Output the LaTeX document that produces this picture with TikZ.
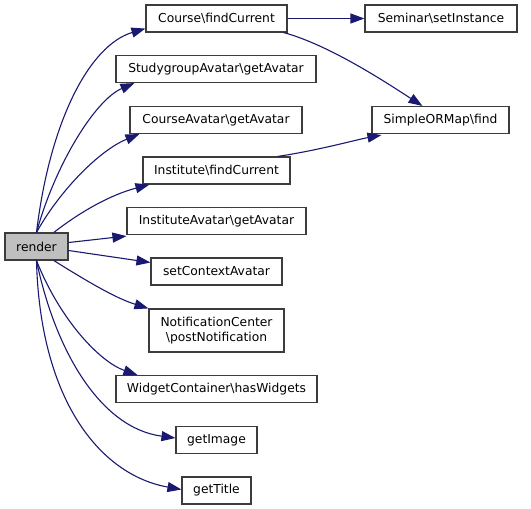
\documentclass[tikz,border=0pt]{standalone}
\usepackage{fontspec}
\setmainfont{DejaVu Sans}
\usetikzlibrary{arrows.meta}
\definecolor{edgeblue}{RGB}{25,25,112}
\definecolor{rendergray}{RGB}{191,191,191}
\definecolor{boxline}{RGB}{60,60,60}
\begin{document}
\begin{tikzpicture}[x=1pt,y=-1pt,
  fn/.style={draw=boxline,line width=1.1pt,fill=white,minimum height=27pt,inner xsep=10pt,inner ysep=2pt,font=\fontsize{12.3}{15}\selectfont,align=center},
  call/.style={edgeblue,line width=1.1pt,-{Triangle[length=14pt,width=10pt]}}]
\useasboundingbox (0,0) rectangle (531,509);
\node[fn,fill=rendergray,minimum width=63pt] (render) at (36.5,246.5) {render};
\node[fn,minimum width=141pt] (coursecur) at (216.5,18.5) {Course\textbackslash findCurrent};
\node[fn,minimum width=152pt] (seminar) at (441,18.5) {Seminar\textbackslash setInstance};
\node[fn,minimum width=200pt] (studyav) at (216,69) {StudygroupAvatar\textbackslash getAvatar};
\node[fn,minimum width=172pt] (courseav) at (216,120) {CourseAvatar\textbackslash getAvatar};
\node[fn,minimum width=137pt] (ormfind) at (440.5,120) {SimpleORMap\textbackslash find};
\node[fn,minimum width=147pt] (instcur) at (216.5,170.5) {Institute\textbackslash findCurrent};
\node[fn,minimum width=179pt] (instav) at (216.5,221) {InstituteAvatar\textbackslash getAvatar};
\node[fn,minimum width=131pt] (ctxav) at (216.5,271.5) {setContextAvatar};
\node[fn,minimum width=135pt,minimum height=43pt] (notify) at (216.5,330.5) {NotificationCenter\\\textbackslash postNotification};
\node[fn,minimum width=201pt] (widgets) at (216.5,389) {WidgetContainer\textbackslash hasWidgets};
\node[fn,minimum width=81pt] (image) at (216.5,440) {getImage};
\node[fn,minimum width=69pt] (title) at (216.5,490.5) {getTitle};
% calls from render
\draw[call] (render.north) .. controls (50,120) and (90,45) .. ([yshift=4pt]coursecur.south west);
\draw[call] (render.north) .. controls (55,165) and (95,100) .. ([xshift=19pt]studyav.south west);
\draw[call] (render.north) .. controls (60,190) and (100,150) .. ([xshift=10pt]courseav.south west);
\draw[call] (render.39) .. controls (80,212) and (110,195) .. ([xshift=7pt]instcur.south west);
\draw[call] ([yshift=4pt]render.east) -- ([yshift=-1pt]instav.south west);
\draw[call] ([yshift=-4pt]render.east) -- ([yshift=9pt]ctxav.west);
\draw[call] (render.-39) .. controls (85,280) and (115,298) .. (notify.north west);
\draw[call] (render.south) .. controls (60,320) and (100,362) .. ([xshift=22pt]widgets.north west);
\draw[call] (render.south) .. controls (55,350) and (100,428) .. ([yshift=2pt]image.west);
\draw[call] (render.south) .. controls (40,400) and (100,475) .. ([yshift=1pt]title.west);
% further calls
\draw[call] (coursecur) -- (seminar);
\draw[call] ([xshift=-4pt]coursecur.south east) .. controls (330,45) and (390,85) .. ([xshift=51pt]ormfind.north west);
\draw[call] ([xshift=-13pt]instcur.north east) .. controls (320,150) and (355,140) .. ([xshift=10pt,yshift=-1pt]ormfind.south west);
\end{tikzpicture}
\end{document}
